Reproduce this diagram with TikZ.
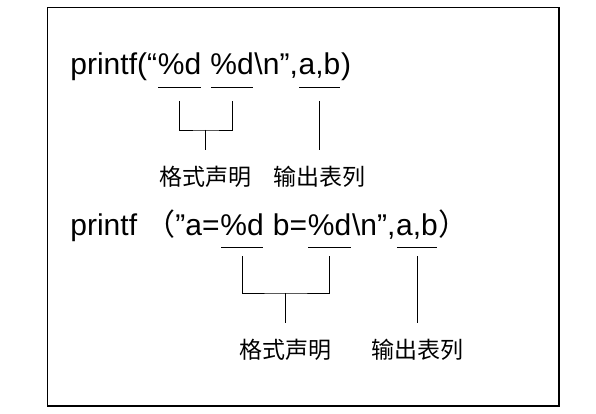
\documentclass[tikz,border=0pt]{standalone}
\usepackage{fontspec}
\setmainfont{Liberation Sans}
\newfontfamily\cjk{Noto Sans CJK SC}

\begin{document}
\begin{tikzpicture}[x=1pt,y=-1pt,line width=0.8pt]
  \tikzset{code/.style={anchor=base west,inner sep=0pt,font=\fontsize{30}{34}\selectfont},
           lbl/.style={anchor=north,inner xsep=0pt,inner ysep=16pt,font=\cjk\fontsize{23}{28}\selectfont},
           uline/.style={shorten <=1pt,shorten >=1pt}}
  \useasboundingbox (0,0) rectangle (596,414);
  \draw[line width=1.1pt] (47.5,7.5) rectangle (559,406);
  % first call
  \node[code] (A0) at (70,75) {printf(“};
  \node[code] (A1) at (A0.base east) {\%d};
  \node[code] (A2) at ([xshift=8.3pt]A1.base east) {\%d};
  \node[code] (A3) at (A2.base east) {\textbackslash n”,};
  \node[code] (A4) at (A3.base east) {a,b};
  \node[code] (A5) at (A4.base east) {)};
  \foreach \n in {A1,A2,A4}
    \draw[uline] ([yshift=-12pt]\n.base west) -- ([yshift=-12pt]\n.base east);
  \coordinate (a1) at ([yshift=-26pt]A1.base);
  \coordinate (a2) at ([yshift=-26pt]A2.base);
  \coordinate (b1) at ([yshift=-26pt]A4.base);
  \path (a1) -- (a2) coordinate[midway] (am);
  \coordinate (fa) at ([yshift=-29pt]am);
  \node[lbl] (fmtA) at ([yshift=-20pt]fa) {格式声明};
  \node[lbl] (outA) at (b1 |- fmtA.north) {输出表列};
  \draw (a1) |- (fa) -| (a2);
  \draw (fa) -- (fmtA);
  \draw (b1) -- (outA);
  % second call
  \node[code] (B0) at (70,235) {printf {\cjk （}”a=};
  \node[code] (B1) at (B0.base east) {\%d};
  \node[code] (B2) at ([xshift=8.3pt]B1.base east) {b=};
  \node[code] (B3) at (B2.base east) {\%d};
  \node[code] (B4) at (B3.base east) {\textbackslash n”,};
  \node[code] (B5) at (B4.base east) {a,b};
  \node[code] (B6) at (B5.base east) {\cjk ）};
  \foreach \n in {B1,B3,B5}
    \draw[uline] ([yshift=-12pt]\n.base west) -- ([yshift=-12pt]\n.base east);
  \coordinate (c1) at ([yshift=-21pt]B1.base);
  \coordinate (c2) at ([yshift=-21pt]B3.base);
  \coordinate (d1) at ([yshift=-21pt]B5.base);
  \path (c1) -- (c2) coordinate[midway] (cm);
  \coordinate (fc) at ([yshift=-37pt]cm);
  \node[lbl] (fmtB) at ([yshift=-30pt]fc) {格式声明};
  \node[lbl] (outB) at (d1 |- fmtB.north) {输出表列};
  \draw (c1) |- (fc) -| (c2);
  \draw (fc) -- (fmtB);
  \draw (d1) -- (outB);
\end{tikzpicture}
\end{document}
